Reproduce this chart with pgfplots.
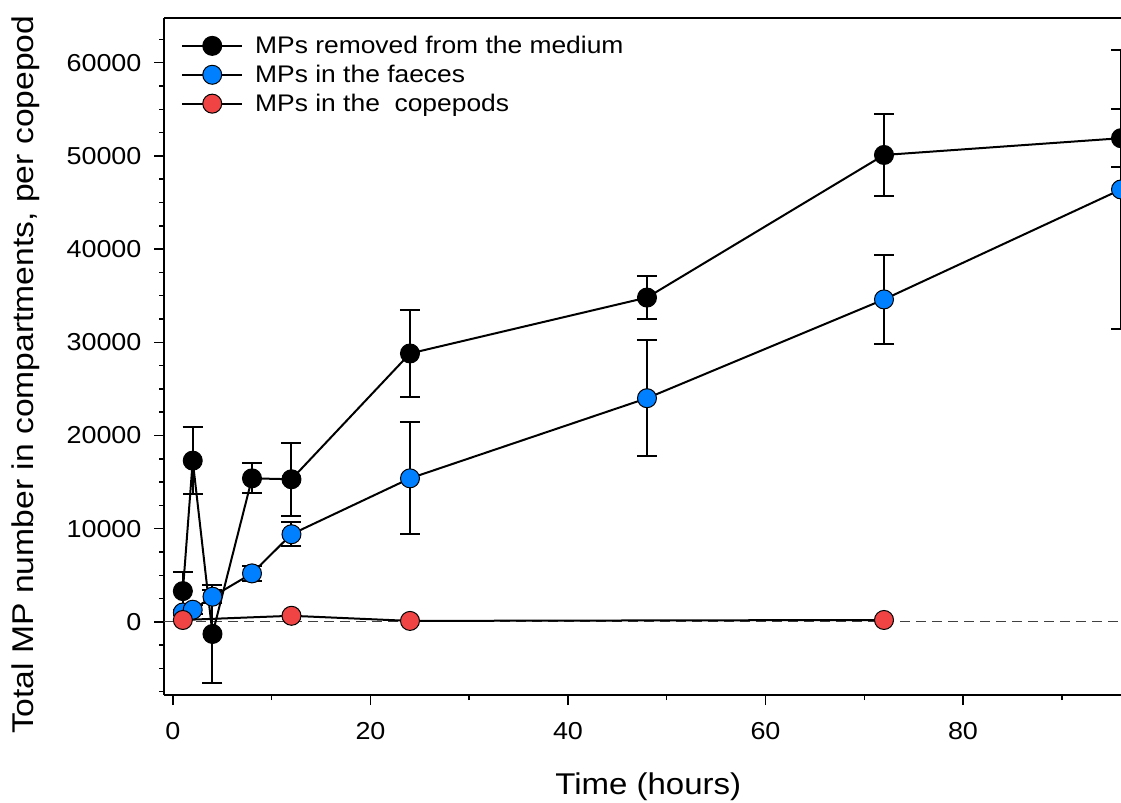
\documentclass[border=0pt]{standalone}
\usepackage{pgfplots}
\pgfplotsset{compat=1.18}
\usepackage{pgfplotstable}
\usepackage{fontspec}
\setmainfont{Liberation Sans}[FakeStretch=1.1]

\definecolor{mpblue}{RGB}{0,128,255}
\definecolor{mpred}{RGB}{240,68,68}

\pgfplotstableread{
t y e
1 3300 2000
2 17300 3600
4 -1300 5300
8 15400 1600
12 15300 3900
24 28800 4700
48 34800 2300
72 50100 4400
96 51900 3100
}\medium

\pgfplotstableread{
t y e
1 1000 300
2 1300 500
4 2700 700
8 5200 820
12 9400 1270
24 15400 6000
48 24000 6200
72 34600 4800
96 46400 15000
}\faeces

\pgfplotstableread{
t y e
1 200 0
12 650 0
24 100 0
72 200 0
}\copepods

\begin{document}
\begin{tikzpicture}
\useasboundingbox (0,0) rectangle (1121bp,803bp);
\begin{axis}[
  at={(164bp,108bp)}, anchor=south west,
  width=957bp, height=677bp, scale only axis,
  xmin=-0.91, xmax=96, ymin=-7850, ymax=64800,
  axis x line=box, axis y line=left,
  axis line style={-, line width=1.8bp, black},
  xtick pos=bottom, ytick pos=left,
  tick align=outside,
  major tick length=10bp, minor tick length=5bp,
  every tick/.style={black, line width=1.5bp},
  xtick={0,20,40,60,80},
  minor xtick={10,30,50,70,90},
  ytick={0,10000,20000,30000,40000,50000,60000},
  minor ytick={-7500,-5000,-2500,2500,5000,7500,12500,15000,17500,22500,25000,27500,32500,35000,37500,42500,45000,47500,52500,55000,57500,62500},
  scaled y ticks=false,
  /pgf/number format/assume math mode=true,
  /pgf/number format/1000 sep={},
  ticklabel style={font=\fontsize{24.5bp}{28bp}\selectfont},
  xticklabel style={yshift=-14bp},
  yticklabel style={xshift=-9bp},
  xlabel={Time (hours)},
  ylabel={Total MP number in compartments, per copepod},
  xlabel style={at={(axis description cs:0.506,-0.135)}, anchor=center, font=\fontsize{30bp}{34bp}\selectfont},
  ylabel style={at={(axis description cs:-0.144,0.473)}, anchor=center, font=\fontsize{30bp}{34bp}\selectfont, xscale=1.02},
  legend style={draw=none, fill=none, at={(axis description cs:0.0178,0.976)}, anchor=north west,
    font=\fontsize{24bp}{28bp}\selectfont, inner sep=0pt, row sep=6bp, column sep=10bp,
    nodes={inner sep=2bp}},
  legend cell align=left,
  legend image code/.code={\draw[mark repeat=2,mark phase=2] plot coordinates {(0bp,0bp) (30bp,0bp) (60bp,0bp)};},
  clip=true,
]
\addplot[forget plot, black!75, line width=1bp, dash pattern=on 10bp off 6bp] coordinates {(-0.91,0) (96,0)};

\addplot[black, line width=2bp, mark=*, mark size=9.5bp,
  mark options={solid, fill=black, draw=black, line width=1bp},
  error bars/.cd, y dir=both, y explicit,
  error bar style={line width=2bp, black},
  error mark options={rotate=90, mark size=10bp, line width=2bp, black}]
  table[x=t, y=y, y error=e] {\medium};
\addlegendentry{MPs removed from the medium}

\addplot[black, line width=2bp, mark=*, mark size=9.5bp,
  mark options={solid, fill=mpblue, draw=black, line width=1bp},
  error bars/.cd, y dir=both, y explicit,
  error bar style={line width=2bp, black},
  error mark options={rotate=90, mark size=10bp, line width=2bp, black}]
  table[x=t, y=y, y error=e] {\faeces};
\addlegendentry{MPs in the faeces}

\addplot[black, line width=2bp, mark=*, mark size=9.5bp,
  mark options={solid, fill=mpred, draw=black, line width=1bp}]
  table[x=t, y=y] {\copepods};
\addlegendentry{MPs in the\ \ copepods}
\end{axis}
\end{tikzpicture}
\end{document}
